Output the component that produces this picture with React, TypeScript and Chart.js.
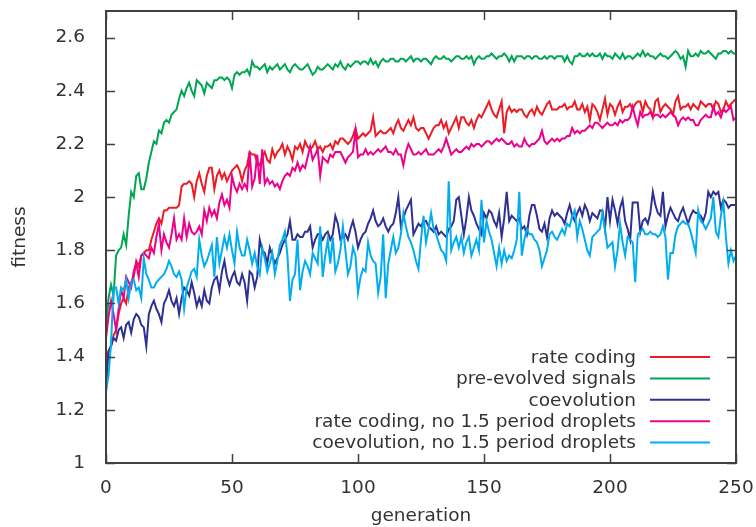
import React, { useEffect, useRef } from "react";
import { Chart, registerables } from "chart.js";

Chart.register(...registerables);

// ---- data (fitness per generation 0..250) ----
const RATE_CODING = [
  1.38, 1.42, 1.44, 1.48, 1.50, 1.56, 1.60, 1.62, 1.60, 1.66,
  1.68, 1.70, 1.76, 1.74, 1.78, 1.79, 1.80, 1.80, 1.84, 1.87,
  1.90, 1.92, 1.90, 1.95, 1.95, 1.96, 1.96, 1.96, 1.96, 1.97,
  2.04, 2.05, 2.05, 2.06, 2.05, 2.00, 2.06, 2.09, 2.05, 2.02,
  2.08, 2.11, 2.11, 2.03, 2.08, 2.10, 2.07, 2.09, 2.06, 2.08,
  2.10, 2.11, 2.12, 2.10, 2.06, 2.10, 2.12, 2.17, 2.16, 2.16,
  2.13, 2.12, 2.15, 2.17, 2.14, 2.13, 2.18, 2.15, 2.17, 2.18,
  2.20, 2.16, 2.19, 2.17, 2.14, 2.19, 2.18, 2.20, 2.17, 2.21,
  2.19, 2.18, 2.19, 2.21, 2.18, 2.19, 2.17, 2.19, 2.19, 2.20,
  2.18, 2.21, 2.20, 2.22, 2.22, 2.21, 2.20, 2.21, 2.23, 2.26,
  2.22, 2.23, 2.24, 2.23, 2.24, 2.25, 2.30, 2.23, 2.24, 2.25,
  2.24, 2.24, 2.25, 2.26, 2.24, 2.27, 2.29, 2.26, 2.25, 2.27,
  2.29, 2.27, 2.30, 2.26, 2.25, 2.26, 2.26, 2.24, 2.22, 2.24,
  2.26, 2.27, 2.27, 2.29, 2.26, 2.28, 2.24, 2.26, 2.28, 2.30,
  2.26, 2.30, 2.30, 2.28, 2.27, 2.29, 2.26, 2.29, 2.31, 2.30,
  2.32, 2.34, 2.36, 2.33, 2.31, 2.30, 2.33, 2.36, 2.24, 2.32,
  2.34, 2.32, 2.33, 2.32, 2.33, 2.33, 2.31, 2.30, 2.32, 2.33,
  2.31, 2.34, 2.32, 2.31, 2.33, 2.35, 2.36, 2.33, 2.33, 2.33,
  2.34, 2.34, 2.35, 2.33, 2.34, 2.34, 2.36, 2.33, 2.33, 2.35,
  2.32, 2.34, 2.29, 2.35, 2.34, 2.32, 2.29, 2.33, 2.37, 2.31,
  2.35, 2.34, 2.31, 2.34, 2.36, 2.32, 2.34, 2.34, 2.35, 2.33,
  2.35, 2.36, 2.36, 2.32, 2.36, 2.34, 2.33, 2.30, 2.36, 2.37,
  2.32, 2.34, 2.35, 2.34, 2.33, 2.31, 2.36, 2.38, 2.33, 2.34,
  2.34, 2.35, 2.33, 2.35, 2.34, 2.33, 2.36, 2.35, 2.34, 2.35,
  2.35, 2.33, 2.36, 2.35, 2.32, 2.33, 2.36, 2.34, 2.35, 2.36,
  2.37,
];

const PRE_EVOLVED = [
  1.50, 1.62, 1.67, 1.63, 1.78, 1.80, 1.81, 1.86, 1.82, 1.93,
  2.02, 2.00, 2.08, 2.09, 2.03, 2.03, 2.07, 2.13, 2.17, 2.21,
  2.20, 2.25, 2.24, 2.28, 2.29, 2.28, 2.31, 2.32, 2.33, 2.37,
  2.40, 2.38, 2.41, 2.43, 2.40, 2.38, 2.44, 2.43, 2.42, 2.39,
  2.43, 2.42, 2.41, 2.44, 2.44, 2.45, 2.45, 2.44, 2.45, 2.44,
  2.41, 2.46, 2.47, 2.46, 2.47, 2.47, 2.48, 2.46, 2.51, 2.49,
  2.49, 2.48, 2.49, 2.50, 2.47, 2.49, 2.48, 2.49, 2.50, 2.48,
  2.49, 2.50, 2.48, 2.47, 2.49, 2.50, 2.49, 2.48, 2.48, 2.49,
  2.50, 2.48, 2.46, 2.47, 2.49, 2.48, 2.48, 2.49, 2.50, 2.49,
  2.48, 2.50, 2.49, 2.51, 2.49, 2.48, 2.50, 2.49, 2.50, 2.51,
  2.51, 2.50, 2.51, 2.51, 2.50, 2.52, 2.50, 2.51, 2.49, 2.51,
  2.52, 2.51, 2.51, 2.52, 2.52, 2.51, 2.51, 2.52, 2.52, 2.51,
  2.52, 2.53, 2.51, 2.52, 2.52, 2.51, 2.52, 2.52, 2.51, 2.50,
  2.52, 2.53, 2.52, 2.52, 2.53, 2.52, 2.52, 2.51, 2.52, 2.53,
  2.53, 2.52, 2.52, 2.53, 2.52, 2.53, 2.50, 2.52, 2.53, 2.52,
  2.52, 2.53, 2.53, 2.54, 2.53, 2.52, 2.53, 2.53, 2.54, 2.53,
  2.51, 2.53, 2.51, 2.53, 2.53, 2.53, 2.52, 2.53, 2.53, 2.52,
  2.53, 2.53, 2.52, 2.52, 2.53, 2.52, 2.53, 2.53, 2.52, 2.53,
  2.53, 2.53, 2.51, 2.53, 2.51, 2.50, 2.53, 2.53, 2.54, 2.53,
  2.53, 2.54, 2.53, 2.54, 2.53, 2.53, 2.54, 2.52, 2.54, 2.53,
  2.53, 2.52, 2.54, 2.53, 2.52, 2.54, 2.52, 2.53, 2.53, 2.52,
  2.53, 2.54, 2.53, 2.55, 2.53, 2.54, 2.53, 2.53, 2.52, 2.53,
  2.54, 2.53, 2.53, 2.52, 2.53, 2.54, 2.55, 2.54, 2.52, 2.53,
  2.49, 2.55, 2.53, 2.53, 2.54, 2.53, 2.55, 2.54, 2.54, 2.55,
  2.54, 2.53, 2.52, 2.54, 2.54, 2.55, 2.55, 2.54, 2.55, 2.54,
  2.54,
];

const COEVOLUTION = [
  1.27, 1.42, 1.44, 1.47, 1.46, 1.50, 1.51, 1.47, 1.52, 1.53,
  1.49, 1.54, 1.56, 1.55, 1.52, 1.51, 1.44, 1.56, 1.59, 1.61,
  1.58, 1.56, 1.53, 1.60, 1.62, 1.65, 1.61, 1.59, 1.62, 1.56,
  1.62, 1.66, 1.65, 1.63, 1.68, 1.64, 1.59, 1.62, 1.59, 1.65,
  1.61, 1.60, 1.66, 1.69, 1.70, 1.65, 1.72, 1.76, 1.70, 1.67,
  1.70, 1.72, 1.68, 1.67, 1.71, 1.68, 1.61, 1.72, 1.71, 1.66,
  1.70, 1.84, 1.80, 1.79, 1.75, 1.81, 1.78, 1.75, 1.77, 1.79,
  1.82, 1.84, 1.86, 1.91, 1.84, 1.84, 1.86, 1.85, 1.85, 1.87,
  1.87, 1.89, 1.81, 1.84, 1.86, 1.86, 1.84, 1.86, 1.87, 1.84,
  1.86, 1.93, 1.90, 1.84, 1.85, 1.86, 1.84, 1.88, 1.91, 1.87,
  1.81, 1.84, 1.86, 1.87, 1.90, 1.92, 1.95, 1.91, 1.89, 1.90,
  1.92, 1.89, 1.87, 1.89, 1.90, 1.94, 2.00, 1.89, 1.92, 1.95,
  1.97, 1.99, 1.86, 1.88, 1.90, 1.89, 1.91, 1.91, 1.89, 1.88,
  1.87, 1.89, 1.86, 1.87, 1.86, 1.85, 1.88, 1.89, 1.91, 1.99,
  2.00, 1.93, 1.86, 1.92, 2.00, 1.95, 1.93, 1.90, 1.88, 1.86,
  1.94, 1.92, 1.95, 1.94, 1.91, 1.89, 1.94, 1.85, 1.92, 2.02,
  1.91, 1.93, 1.92, 1.91, 1.92, 1.88, 1.89, 1.86, 1.93, 1.97,
  1.97, 1.93, 1.88, 1.87, 1.90, 1.85, 1.92, 1.95, 1.93, 1.94,
  1.93, 1.92, 1.90, 1.94, 1.97, 1.93, 1.91, 1.94, 1.96, 1.93,
  1.97, 1.95, 1.91, 1.94, 1.93, 1.92, 1.95, 1.95, 1.88, 2.00,
  1.91, 1.99, 1.95, 1.90, 1.96, 1.99, 1.91, 1.88, 1.84, 1.98,
  1.98, 1.98, 1.87, 1.91, 1.92, 1.90, 1.94, 2.02, 1.97, 1.94,
  1.93, 2.02, 1.89, 1.93, 1.96, 1.94, 1.92, 1.91, 1.94, 1.96,
  1.93, 1.90, 1.93, 1.95, 1.94, 1.94, 1.93, 1.91, 1.94, 2.02,
  2.00, 2.02, 2.01, 2.02, 1.96, 1.99, 1.98, 1.96, 1.97, 1.97,
  1.97,
];

const RATE_CODING_NO15 = [
  1.47, 1.55, 1.61, 1.56, 1.50, 1.58, 1.65, 1.62, 1.70, 1.68,
  1.66, 1.72, 1.75, 1.70, 1.78, 1.79, 1.78, 1.77, 1.81, 1.79,
  1.85, 1.90, 1.80, 1.86, 1.83, 1.81, 1.86, 1.92, 1.84, 1.86,
  1.84, 1.92, 1.85, 1.90, 1.87, 1.86, 1.87, 1.89, 1.86, 1.95,
  1.91, 1.96, 1.93, 1.95, 1.92, 1.98, 2.01, 1.97, 1.99, 1.96,
  2.08, 2.04, 2.02, 2.05, 2.03, 2.05, 2.03, 2.17, 2.04, 2.07,
  2.16, 2.05, 2.18, 2.05, 2.07, 2.05, 2.06, 2.04, 2.05, 2.03,
  2.06, 2.08, 2.09, 2.08, 2.11, 2.10, 2.13, 2.10, 2.12, 2.11,
  2.15, 2.19, 2.14, 2.16, 2.18, 2.08, 2.15, 2.14, 2.13, 2.16,
  2.15, 2.17, 2.17, 2.17, 2.15, 2.13, 2.15, 2.16, 2.17, 2.25,
  2.15, 2.16, 2.16, 2.18, 2.16, 2.17, 2.16, 2.17, 2.18, 2.17,
  2.18, 2.19, 2.17, 2.17, 2.16, 2.18, 2.16, 2.16, 2.12, 2.17,
  2.20, 2.18, 2.16, 2.16, 2.17, 2.16, 2.17, 2.18, 2.16, 2.16,
  2.16, 2.17, 2.18, 2.17, 2.19, 2.22, 2.19, 2.16, 2.17, 2.18,
  2.17, 2.17, 2.18, 2.19, 2.18, 2.20, 2.19, 2.20, 2.20, 2.19,
  2.20, 2.21, 2.21, 2.20, 2.21, 2.22, 2.21, 2.22, 2.21, 2.20,
  2.20, 2.21, 2.19, 2.20, 2.19, 2.19, 2.22, 2.20, 2.19, 2.20,
  2.20, 2.21, 2.22, 2.25, 2.21, 2.20, 2.21, 2.22, 2.21, 2.22,
  2.21, 2.22, 2.22, 2.23, 2.23, 2.26, 2.24, 2.25, 2.24, 2.25,
  2.25, 2.26, 2.27, 2.26, 2.28, 2.28, 2.27, 2.26, 2.27, 2.28,
  2.27, 2.27, 2.28, 2.27, 2.29, 2.28, 2.29, 2.29, 2.30, 2.34,
  2.30, 2.27, 2.32, 2.30, 2.31, 2.31, 2.32, 2.30, 2.31, 2.31,
  2.30, 2.31, 2.30, 2.31, 2.32, 2.31, 2.30, 2.27, 2.29, 2.30,
  2.29, 2.30, 2.29, 2.29, 2.27, 2.27, 2.29, 2.30, 2.31, 2.30,
  2.30, 2.34, 2.31, 2.32, 2.30, 2.33, 2.32, 2.33, 2.34, 2.29,
  2.30,
];

const COEVOLUTION_NO15 = [
  1.27, 1.33, 1.45, 1.66, 1.66, 1.60, 1.66, 1.65, 1.69, 1.62,
  1.68, 1.69, 1.65, 1.66, 1.62, 1.77, 1.71, 1.69, 1.66, 1.66,
  1.68, 1.69, 1.70, 1.71, 1.73, 1.76, 1.74, 1.71, 1.70, 1.72,
  1.69, 1.58, 1.66, 1.69, 1.72, 1.73, 1.70, 1.84, 1.78, 1.74,
  1.76, 1.79, 1.82, 1.70, 1.85, 1.75, 1.80, 1.85, 1.81, 1.86,
  1.80, 1.75, 1.87, 1.81, 1.78, 1.78, 1.84, 1.80, 1.75, 1.79,
  1.74, 1.71, 1.81, 1.77, 1.72, 1.75, 1.79, 1.71, 1.76, 1.82,
  1.84, 1.87, 1.78, 1.61, 1.69, 1.71, 1.84, 1.65, 1.72, 1.76,
  1.74, 1.71, 1.79, 1.77, 1.75, 1.89, 1.70, 1.78, 1.84, 1.75,
  1.85, 1.72, 1.75, 1.80, 1.89, 1.80, 1.71, 1.74, 1.81, 1.78,
  1.64, 1.70, 1.73, 1.72, 1.83, 1.78, 1.76, 1.75, 1.64, 1.70,
  1.86, 1.62, 1.75, 1.80, 1.85, 1.79, 1.81, 1.86, 1.94, 1.89,
  1.85, 1.83, 1.80, 1.76, 1.73, 1.84, 1.93, 1.83, 1.88, 1.94,
  1.88, 1.86, 1.83, 1.80, 1.79, 1.76, 2.06, 1.80, 1.83, 1.85,
  1.81, 1.85, 1.79, 1.83, 1.85, 1.78, 1.81, 1.84, 1.80, 1.99,
  1.83, 1.91, 1.87, 1.84, 1.79, 1.74, 1.81, 1.75, 1.80, 1.76,
  1.78, 1.77, 1.80, 1.84, 2.02, 1.78, 1.84, 1.88, 1.86, 1.86,
  1.84, 1.83, 1.80, 1.74, 1.77, 1.80, 1.86, 1.87, 1.85, 1.84,
  1.86, 1.88, 1.86, 1.90, 1.89, 1.93, 1.95, 1.85, 1.91, 1.88,
  1.84, 1.80, 1.78, 1.85, 1.86, 1.87, 1.88, 1.94, 1.88, 1.81,
  1.82, 1.83, 1.74, 1.80, 1.90, 1.83, 1.78, 1.85, 1.84, 1.83,
  1.68, 1.86, 1.87, 1.88, 1.86, 1.86, 1.87, 1.86, 1.86, 1.85,
  1.86, 1.89, 1.85, 1.69, 1.79, 1.79, 1.86, 1.89, 1.90, 1.91,
  1.90, 1.90, 1.87, 1.83, 1.79, 1.95, 1.91, 1.90, 1.88, 1.90,
  1.92, 2.00, 1.87, 1.85, 1.93, 1.98, 1.85, 1.75, 1.80, 1.76,
  1.78,
];

const SERIES_LABELS = [
  "rate coding",
  "pre-evolved signals",
  "coevolution",
  "rate coding, no 1.5 period droplets",
  "coevolution, no 1.5 period droplets",
];
const SERIES_VALUES = [RATE_CODING, PRE_EVOLVED, COEVOLUTION, RATE_CODING_NO15, COEVOLUTION_NO15];
const SERIES_COLORS = ["#ed1c24", "#00a651", "#2e3192", "#ec008c", "#00aeef"];

const X_TICKS = [0, 50, 100, 150, 200, 250];
const Y_TICKS = [1, 1.2, 1.4, 1.6, 1.8, 2, 2.2, 2.4, 2.6];

const FONT_FAMILY = '"DejaVu Sans", "Liberation Sans", sans-serif';
const FONT_SIZE = 18.5;
const TEXT_COLOR = "#333333";
const FRAME_COLOR = "#404040";

const framePlugin = {
  id: "gnuFrame",
  afterDatasetsDraw(chart: any) {
    const { ctx, chartArea, scales } = chart;
    const { left, right, top, bottom } = chartArea;
    const x = scales.x;
    const y = scales.y;
    ctx.save();
    ctx.strokeStyle = FRAME_COLOR;
    ctx.lineWidth = 1.5;
    const L = 9;
    ctx.beginPath();
    for (const t of X_TICKS) {
      const px = Math.round(x.getPixelForValue(t)) + 0.5;
      ctx.moveTo(px, bottom);
      ctx.lineTo(px, bottom - L);
      ctx.moveTo(px, top);
      ctx.lineTo(px, top + L);
    }
    for (const t of Y_TICKS) {
      const py = Math.round(y.getPixelForValue(t)) + 0.5;
      ctx.moveTo(left, py);
      ctx.lineTo(left + L, py);
      ctx.moveTo(right, py);
      ctx.lineTo(right - L, py);
    }
    ctx.stroke();
    ctx.lineWidth = 2;
    ctx.strokeRect(left, top, right - left, bottom - top);
    ctx.restore();
  },
};

const legendPlugin = {
  id: "insideLegend",
  afterDraw(chart: any) {
    const { ctx, chartArea } = chart;
    const { right, bottom } = chartArea;
    ctx.save();
    ctx.font = `${FONT_SIZE}px ${FONT_FAMILY}`;
    ctx.textAlign = "right";
    ctx.textBaseline = "middle";
    chart.data.datasets.forEach((ds: any, i: number) => {
      const yy = bottom - 106 + i * 21.4;
      ctx.fillStyle = TEXT_COLOR;
      ctx.fillText(ds.label, right - 100, yy + 1);
      ctx.strokeStyle = ds.borderColor;
      ctx.lineWidth = 2;
      ctx.beginPath();
      ctx.moveTo(right - 86, yy);
      ctx.lineTo(right - 26, yy);
      ctx.stroke();
    });
    ctx.restore();
  },
};

export default function App() {
  const canvasRef = useRef<HTMLCanvasElement | null>(null);

  useEffect(() => {
    const canvas = canvasRef.current;
    if (!canvas) return;
    const datasets = SERIES_VALUES.map((vals, i) => ({
      label: SERIES_LABELS[i],
      data: vals.map((v, g) => ({ x: g, y: v })),
      borderColor: SERIES_COLORS[i],
      backgroundColor: SERIES_COLORS[i],
      borderWidth: 2,
      pointRadius: 0,
      tension: 0,
      fill: false,
      order: SERIES_VALUES.length - i,
    }));
    const font = { family: FONT_FAMILY, size: FONT_SIZE };
    const chart = new Chart(canvas, {
      type: "line",
      data: { datasets },
      plugins: [framePlugin, legendPlugin],
      options: {
        animation: false,
        responsive: false,
        maintainAspectRatio: false,
        layout: { padding: { top: 11, right: 20, left: 0, bottom: 0 } },
        plugins: { legend: { display: false }, tooltip: { enabled: false } },
        scales: {
          x: {
            type: "linear",
            min: 0,
            max: 250,
            grid: { display: false },
            border: { display: false },
            afterBuildTicks: (s: any) => {
              s.ticks = X_TICKS.map((v) => ({ value: v }));
            },
            afterFit: (s: any) => {
              s.height = 64;
              s.paddingLeft = 0;
              s.paddingRight = 0;
              s.paddingTop = 0;
              s.paddingBottom = 0;
            },
            ticks: {
              font,
              color: TEXT_COLOR,
              padding: 6,
              maxRotation: 0,
              autoSkip: false,
              callback: (v: any) => String(v),
            },
            title: {
              display: true,
              text: "generation",
              font,
              color: TEXT_COLOR,
              padding: { top: 0, bottom: 0 },
            },
          },
          y: {
            type: "linear",
            min: 1,
            max: 2.7,
            grid: { display: false },
            border: { display: false },
            afterBuildTicks: (s: any) => {
              s.ticks = Y_TICKS.map((v) => ({ value: v }));
            },
            afterFit: (s: any) => {
              s.width = 106;
              s.paddingLeft = 0;
              s.paddingRight = 0;
              s.paddingTop = 0;
              s.paddingBottom = 0;
            },
            ticks: {
              font,
              color: TEXT_COLOR,
              padding: 13,
              autoSkip: false,
              callback: (v: any) => String(v),
            },
            title: {
              display: true,
              text: "fitness",
              font,
              color: TEXT_COLOR,
              padding: { top: 9, bottom: 0 },
            },
          },
        },
      },
    } as any);
    return () => chart.destroy();
  }, []);

  return (
    <div style={{ position: "fixed", left: 0, top: 0, width: 756, height: 527, background: "#fff" }}>
      <canvas ref={canvasRef} width={756} height={527} style={{ display: "block", width: 756, height: 527 }} />
    </div>
  );
}
